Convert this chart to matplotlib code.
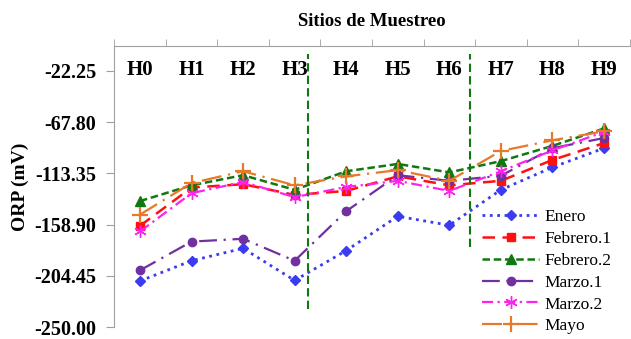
import numpy as np
import matplotlib.pyplot as plt

plt.rcParams['font.family'] = ['Liberation Serif', 'DejaVu Serif']

sitios = ['H0', 'H1', 'H2', 'H3', 'H4', 'H5', 'H6', 'H7', 'H8', 'H9']
enero = [-209, -191, -180, -208.5, -182, -151.5, -159.5, -128, -108, -91]
febrero1 = [-160, -126, -123, -132.5, -129, -116, -124, -120, -101.5, -86.5]
febrero2 = [-138, -124, -115, -128, -111.5, -105, -112.5, -102.5, -89, -73.5]
marzo1 = [-199.5, -174, -171.5, -191, -147, -115, -120, -115.5, -91, -82]
marzo2 = [-165, -131, -121, -134.5, -125.5, -120, -129, -111.5, -93, -76.5]
mayo = [-150, -122, -111.5, -124, -116, -110.5, -120, -93.5, -84, -76]

yticks = [-250.00, -204.45, -158.90, -113.35, -67.80, -22.25]

fig = plt.figure(figsize=(6.31, 3.39), dpi=100)
ax = fig.add_axes([0.181, 0.035, 0.817, 0.83])
x = np.arange(len(sitios))

ax.plot(x, enero, color='#3b3bf0', ls=':', lw=2, marker='D', ms=5.5, label='Enero')
ax.plot(x, febrero1, color='#ff1010', ls=(0, (5, 3)), lw=1.8, marker='s', ms=6, label='Febrero.1')
ax.plot(x, febrero2, color='#117711', ls=(0, (3, 1.5)), lw=1.8, marker='^', ms=7, label='Febrero.2')
ax.plot(x, marzo1, color='#7030a0', ls=(0, (8, 3, 1, 3)), lw=1.6, marker='o', ms=6, label='Marzo.1')
ax.plot(x, marzo2, color='#ff22ee', ls=(0, (5, 2, 1, 2)), lw=1.6, marker=(6, 2, 0), ms=9, label='Marzo.2')
ax.plot(x, mayo, color='#e8782a', ls=(0, (9, 3, 1, 3)), lw=1.6, marker='+', ms=11, mew=1.6, label='Mayo')

# lineas divisorias entre zonas
ax.vlines(3.25, -234, -7, colors='#117711', linestyles=(0, (4, 2)), lw=1.5)
ax.vlines(6.4, -179, -7, colors='#117711', linestyles=(0, (4, 2)), lw=1.5)

ax.set_xlim(-0.5, 9.5)
ax.set_ylim(-250, 0)
ax.set_yticks(yticks)
ax.set_yticklabels(['%.2f' % v for v in yticks], fontsize=14.5, fontweight='bold')
ax.set_ylabel('ORP (mV)', fontsize=14, fontweight='bold', labelpad=4)

ax.xaxis.set_ticks_position('top')
ax.xaxis.set_label_position('top')
ax.set_xticks(x)
ax.set_xticklabels(sitios, fontsize=15, fontweight='bold')
ax.set_xticks(np.arange(-0.5, 10, 1), minor=True)
ax.tick_params(axis='x', which='major', length=0, pad=-25)
ax.tick_params(axis='x', which='minor', length=5, color='#a0a0a0', direction='out')
ax.tick_params(axis='y', length=6, color='#a0a0a0', pad=7)
ax.set_xlabel('Sitios de Muestreo', fontsize=13.5, fontweight='bold', labelpad=6)

for s in ['right', 'bottom']:
    ax.spines[s].set_visible(False)
for s in ['left', 'top']:
    ax.spines[s].set_color('#a0a0a0')

ax.legend(loc='upper left', bbox_to_anchor=(0.7, 0.445), frameon=False, fontsize=12.5,
          handlelength=3.3, handletextpad=0.3, labelspacing=0.33, borderaxespad=0)

fig.savefig('out.png', dpi=100)
